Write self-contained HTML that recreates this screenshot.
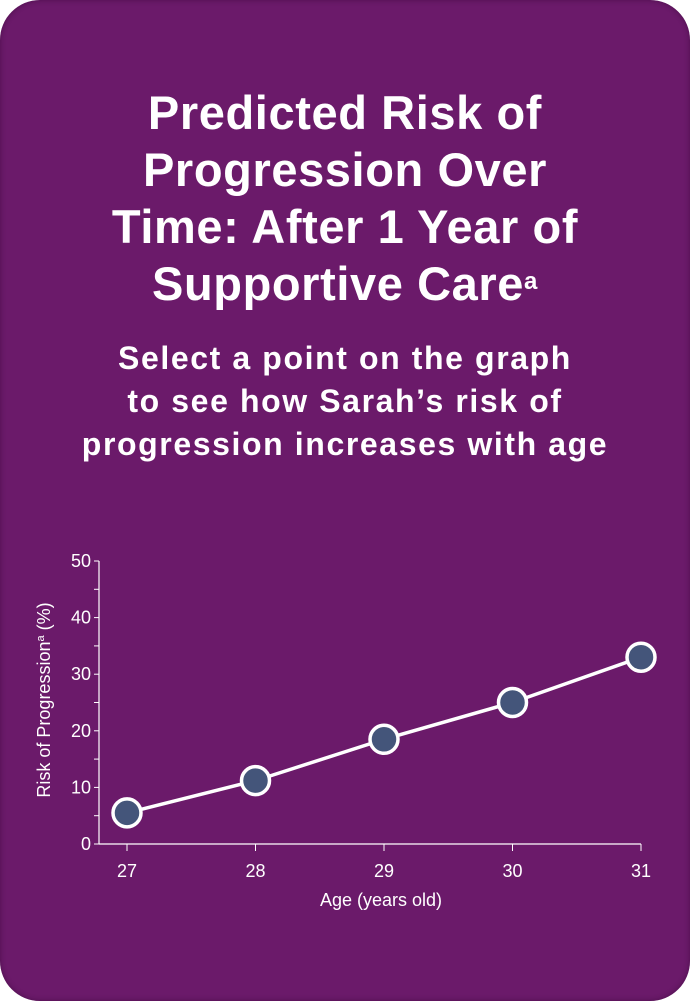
<!DOCTYPE html>
<html><head><meta charset="utf-8"><style>
html,body{margin:0;padding:0;background:#fff;}
body{width:690px;height:1001px;position:relative;overflow:hidden;font-family:"Liberation Sans",sans-serif;}
.card{position:absolute;left:0;top:0;width:690px;height:1001px;border-radius:40px;background:#6b1a6a;box-shadow:inset 0 0 6px rgba(40,0,40,0.45);}
h1{position:absolute;left:0;width:690px;top:84px;margin:0;text-align:center;color:#fff;font-size:47px;line-height:57px;font-weight:bold;letter-spacing:0.6px;}
h1 sup{font-size:24px;vertical-align:top;position:relative;top:-2px;}
h2{position:absolute;left:0;width:690px;top:337px;margin:0;text-align:center;color:#fff;font-size:32px;line-height:43px;font-weight:bold;letter-spacing:1.6px;}
svg{position:absolute;left:0;top:0;}
</style></head><body>
<div class="card"></div>
<h1>Predicted Risk of<br>Progression Over<br>Time: After 1 Year of<br>Supportive Care<sup>a</sup></h1>
<h2>Select a point on the graph<br>to see how Sarah’s risk of<br>progression increases with age</h2>
<svg id="chart" width="690" height="1001"></svg>
<script>
const ages = [27, 28, 29, 30, 31];
const risks = [5.5, 11.2, 18.5, 25, 33];
const yTicks = [0, 10, 20, 30, 40, 50];
const ns = "http://www.w3.org/2000/svg";
const svg = document.getElementById('chart');
const x0 = 99, xR = 641, yTop = 561, yBot = 844;
function xs(a){ return 127 + (a - 27) * (641 - 127) / 4; }
function ys(v){ return yBot - v * (yBot - yTop) / 50; }
function mk(tag, attrs, name, inter){
  const e = document.createElementNS(ns, tag);
  for (const k in attrs) e.setAttribute(k, attrs[k]);
  
  
  svg.appendChild(e); return e;
}
mk('line', {x1:x0, y1:yTop, x2:x0, y2:yBot, stroke:'#fff', 'stroke-width':1.2}, 'y-axis', false);
mk('line', {x1:x0, y1:yBot, x2:xR, y2:yBot, stroke:'#fff', 'stroke-width':1.2}, 'x-axis', false);
for (let v = 0; v <= 50; v += 5) {
  mk('line', {x1:x0-5, y1:ys(v), x2:x0, y2:ys(v), stroke:'#fff', 'stroke-width':1}, 'y-tick', false);
}
yTicks.forEach(v => {
  const t = mk('text', {x:x0-8, y:ys(v)+6, 'text-anchor':'end', fill:'#fff', 'font-size':18, 'font-family':'Liberation Sans, sans-serif'}, 'y-tick-label', false);
  t.textContent = v;
});
ages.forEach(a => {
  mk('line', {x1:xs(a), y1:yBot, x2:xs(a), y2:yBot+7, stroke:'#fff', 'stroke-width':1}, 'x-tick', false);
  const t = mk('text', {x:xs(a), y:877, 'text-anchor':'middle', fill:'#fff', 'font-size':18, 'font-family':'Liberation Sans, sans-serif'}, 'x-tick-label', false);
  t.textContent = a;
});
const xt = mk('text', {x:381, y:906, 'text-anchor':'middle', fill:'#fff', 'font-size':18, 'font-family':'Liberation Sans, sans-serif'}, 'x-axis-title', false);
xt.textContent = 'Age (years old)';
const yt = mk('text', {x:0, y:0, transform:'translate(50,700) rotate(-90)', 'text-anchor':'middle', fill:'#fff', 'font-size':18, 'font-family':'Liberation Sans, sans-serif'}, 'y-axis-title', false);
yt.innerHTML = 'Risk of Progression<tspan font-size="11" dy="-6">a</tspan><tspan dy="6"> (%)</tspan>';
const pts = ages.map((a, i) => xs(a) + ',' + ys(risks[i])).join(' ');
mk('polyline', {points:pts, fill:'none', stroke:'#fff', 'stroke-width':3.5}, 'risk-line', false);
ages.forEach((a, i) => {
  mk('circle', {cx:xs(a), cy:ys(risks[i]), r:14, fill:'#44557a', stroke:'#fff', 'stroke-width':3.5, style:'cursor:pointer'}, 'data-point-' + a, true);
});
</script>
</body></html>
